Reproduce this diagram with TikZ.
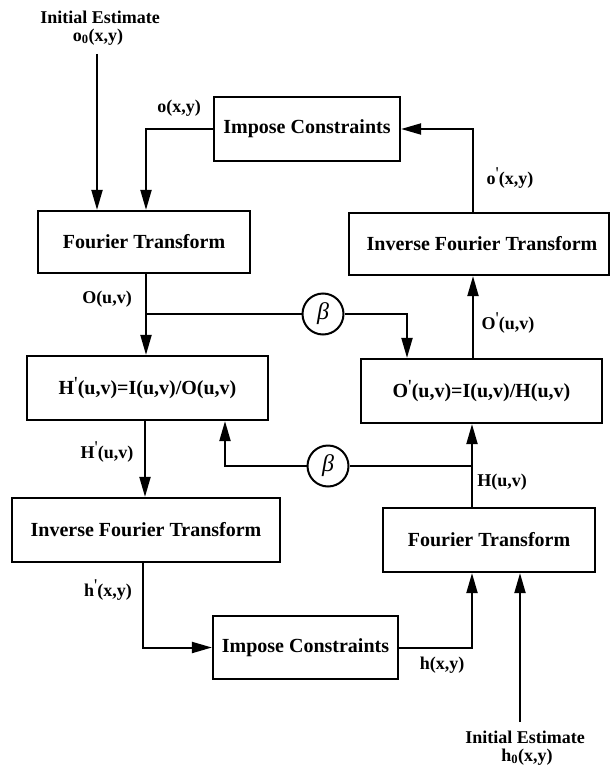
\documentclass[tikz,border=0pt]{standalone}
\usepackage{fontspec}
\setmainfont{Liberation Serif}
\usetikzlibrary{arrows.meta,calc}
\newcommand{\pr}{\raisebox{0.5ex}{\normalfont\textquotesingle}}
\tikzset{
  blk/.style={draw,line width=2.2pt,rectangle,inner sep=0pt,align=center,
    font=\fontsize{20}{22}\selectfont\bfseries},
  lbl/.style={font=\fontsize{18}{20}\selectfont\bfseries,inner sep=0pt,align=center},
  bet/.style={draw,circle,line width=2pt,minimum size=41pt,inner sep=0pt,
    font=\fontsize{24}{26}\selectfont\itshape},
  ln/.style={line width=2pt},
  arr/.style={line width=2pt,-{Triangle[length=20pt,width=11pt]}},
}
\begin{document}
\begin{tikzpicture}[x=1pt,y=-1pt]
\useasboundingbox (0,0) rectangle (611,768);
% boxes
\node[blk,minimum width=212pt,minimum height=62pt] (FT1) at (144,242) {Fourier Transform};
\node[blk,minimum width=186pt,minimum height=64pt] (IC1) at (307,129) {Impose Constraints};
\node[blk,minimum width=260pt,minimum height=62pt] (IFT1) at (479,244) {\hspace*{6pt}Inverse Fourier Transform};
\node[blk,minimum width=241pt,minimum height=64pt] (Op) at (481.5,391) {O\pr(u,v)=I(u,v)/H(u,v)};
\node[blk,minimum width=241pt,minimum height=64pt] (Hp) at (147.5,388) {H\pr(u,v)=I(u,v)/O(u,v)};
\node[blk,minimum width=268pt,minimum height=64pt] (IFT2) at (146,530) {Inverse Fourier Transform};
\node[blk,minimum width=212pt,minimum height=64pt] (FT2) at (489,540) {Fourier Transform};
\node[blk,minimum width=185pt,minimum height=63pt] (IC2) at (305.5,647.5) {Impose Constraints};
\node[bet] (B1) at (323,314) {β};
\node[bet] (B2) at (328,466) {β};
% labels
\node[lbl] (in1a) at (100,17) {Initial Estimate};
\node[lbl] (in1b) at (98,37) {o\textsubscript{0}(x,y)};
\node[lbl] (in2a) at (525,737) {Initial Estimate};
\node[lbl] (in2b) at (527,757) {h\textsubscript{0}(x,y)};
\node[lbl] (l1) at (179,108) {o(x,y)};
\node[lbl] (l2) at (510,178) {o\pr(x,y)};
\node[lbl] (l3) at (107,299) {O(u,v)};
\node[lbl] (l4) at (508,323) {O\pr(u,v)};
\node[lbl] (l5) at (107,452) {H\pr(u,v)};
\node[lbl] (l6) at (502,482) {H(u,v)};
\node[lbl] (l7) at (108,590) {h\pr(x,y)};
\node[lbl] (l8) at (442,665) {h(x,y)};
% coordinates
\coordinate (s1) at ([xshift=-47pt]FT1.north |- 0,54);
\coordinate (s2) at ([xshift=31pt]FT2.south |- 0,722);
\coordinate (b1) at ([xshift=2pt]FT1.south |- B1.center);
\coordinate (b2) at ([xshift=-17pt]FT2.north |- B2.center);
% connectors
\draw[arr] (s1) -- (s1 |- FT1.north);
\draw[arr] (IC1.west) -| ([xshift=2pt]FT1.north);
\draw[arr] ([xshift=-6.5pt]IFT1.north) |- (IC1.east);
\draw[arr] ([xshift=2pt]FT1.south) -- ([xshift=2pt]FT1.south |- Hp.north);
\draw[ln] (b1) -- (B1.west);
\draw[arr] (B1.east) -| ([xshift=-74.5pt]Op.north);
\draw[arr] ([xshift=-8.5pt]Op.north) -- ([xshift=-8.5pt]Op.north |- IFT1.south);
\draw[arr] ([xshift=-17pt]FT2.north) -- ([xshift=-17pt]FT2.north |- Op.south);
\draw[ln] (b2) -- (B2.east);
\draw[arr] (B2.west) -| ([xshift=77.5pt]Hp.south);
\draw[arr] ([xshift=-2.5pt]Hp.south) -- ([xshift=-2.5pt]Hp.south |- IFT2.north);
\draw[arr] ([xshift=-3pt]IFT2.south) |- (IC2.west);
\draw[arr] (IC2.east) -| ([xshift=-17pt]FT2.south);
\draw[arr] (s2) -- (s2 |- FT2.south);
\end{tikzpicture}
\end{document}
